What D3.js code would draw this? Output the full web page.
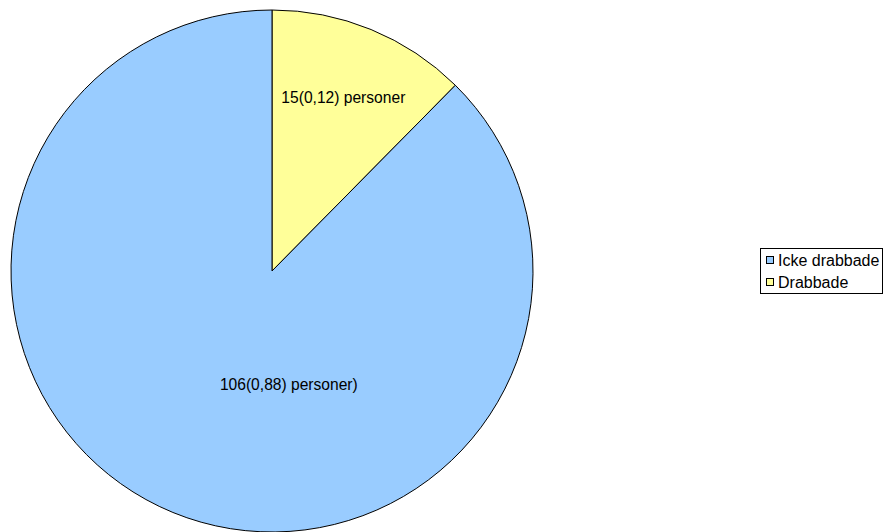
<!DOCTYPE html>
<html>
<head>
<meta charset="utf-8">
<script src="https://cdn.jsdelivr.net/npm/d3@7"></script>
<style>
  html, body { margin: 0; padding: 0; background: #fff; }
  svg { display: block; font-family: "Liberation Sans", Arial, sans-serif; }
</style>
</head>
<body>
<svg id="chart" width="885" height="532"></svg>
<script>
// Slices in drawing order (clockwise from 12 o'clock)
const sliceNames  = ["Drabbade", "Icke drabbade"];
const sliceValues = [15, 106];
const sliceLabels = ["15(0,12) personer", "106(0,88) personer)"];
const sliceColors = ["#FFFF99", "#99CCFF"];

// Legend entries, top to bottom
const legendNames = ["Icke drabbade", "Drabbade"];

const svg = d3.select("#chart");
const cx = 272, cy = 271, R = 261;

const pie = d3.pie().sort(null).value(d => d)(sliceValues);
const arc = d3.arc().innerRadius(0).outerRadius(R);
const color = d3.scaleOrdinal().domain(sliceNames).range(sliceColors);

const g = svg.append("g").attr("transform", `translate(${cx},${cy})`);

g.selectAll("path.slice")
  .data(pie)
  .join("path")
  .attr("class", "slice")
  .attr("d", arc)
  .attr("fill", (d, i) => color(sliceNames[i]))
  .attr("stroke", "#000")
  .attr("stroke-width", 1);

// Label anchors: the small slice sits at its centroid, the large one just below the centre
function labelPoint(d) {
  if (d.endAngle - d.startAngle < Math.PI) {
    return d3.arc().innerRadius(R * 0.72).outerRadius(R * 0.72).centroid(d);
  }
  return d3.pointRadial(Math.PI - 0.147, R * 0.44);
}

g.selectAll("text.lbl")
  .data(pie)
  .join("text")
  .attr("class", "lbl")
  .attr("transform", d => { const p = labelPoint(d); return `translate(${p[0]},${p[1]})`; })
  .attr("text-anchor", "middle")
  .attr("dy", "0.35em")
  .attr("font-size", 15.6)
  .attr("fill", "#000")
  .text((d, i) => sliceLabels[i]);

// Legend
const legend = svg.append("g").attr("transform", "translate(760,248)");
legend.append("rect")
  .attr("x", 0.5).attr("y", 0.5)
  .attr("width", 122).attr("height", 45)
  .attr("fill", "#fff").attr("stroke", "#000").attr("stroke-width", 1);

const rowY = d3.scalePoint().domain(legendNames).range([12, 34]);
const items = legend.selectAll("g.item")
  .data(legendNames)
  .join("g")
  .attr("class", "item")
  .attr("transform", d => `translate(0,${rowY(d)})`);

items.append("rect")
  .attr("x", 6.5).attr("y", -3.5)
  .attr("width", 7).attr("height", 7)
  .attr("fill", d => color(d))
  .attr("stroke", "#000").attr("stroke-width", 1);

items.append("text")
  .attr("x", 18)
  .attr("y", 0)
  .attr("dy", "0.36em")
  .attr("font-size", 16)
  .attr("fill", "#000")
  .text(d => d);
</script>
</body>
</html>
